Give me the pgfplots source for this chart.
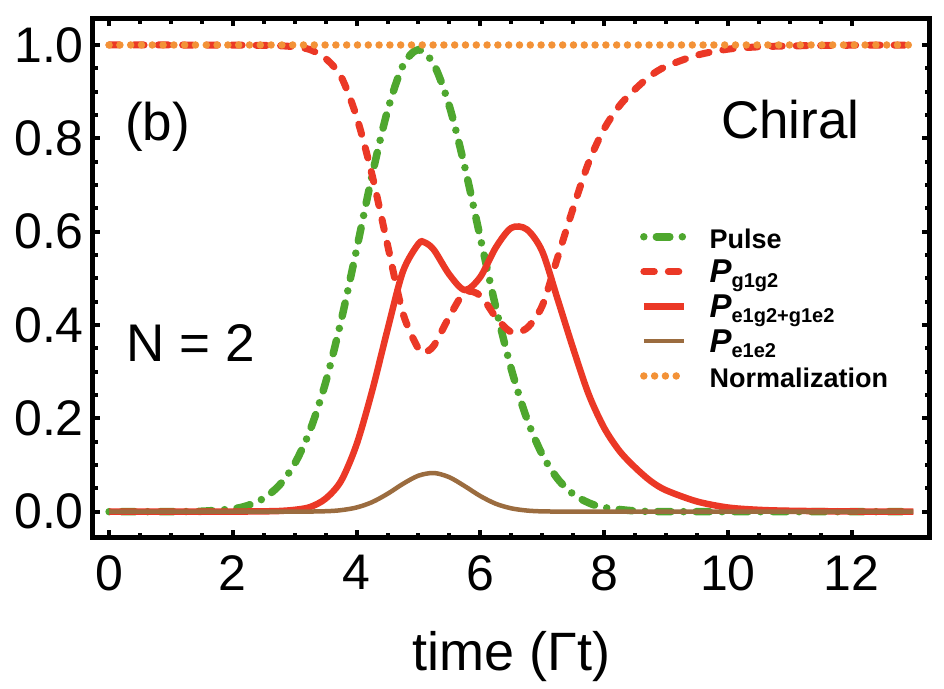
\documentclass[border=0pt]{standalone}
\usepackage{fontspec}
\setmainfont{Liberation Sans}
\usepackage{pgfplots}
\pgfplotsset{compat=1.18}
\definecolor{cgreen}{RGB}{78,167,46}
\definecolor{cred}{RGB}{235,56,38}
\definecolor{corange}{RGB}{243,146,55}
\definecolor{cbrown}{RGB}{155,108,63}
\newcommand{\lstrut}{\rule[-10.3pt]{0pt}{34.3pt}}
\newcommand{\Pleg}[1]{\lstrut{\fontsize{33}{33}\selectfont\bfseries\itshape P}\raisebox{-5pt}{\fontsize{20}{20}\selectfont\bfseries #1}}
\begin{document}
\begin{tikzpicture}
\begin{axis}[
  scale only axis, width=836.5pt, height=518.5pt,
  xmin=-0.26, xmax=13.26, ymin=-0.0553, ymax=1.0557,
  axis line style={line width=5pt, black},
  tick align=inside, tick pos=both,
  major tick length=7.5pt, minor tick length=5pt,
  tick style={line width=4pt, black},
  xtick={0,2,...,12}, minor x tick num=3,
  ytick={0,0.2,0.4,0.6,0.8,1.0}, minor y tick num=3,
  /pgf/number format/assume math mode=true,
  tick label style={font=\fontsize{50}{50}\selectfont},
  yticklabel style={/pgf/number format/.cd, fixed, fixed zerofill, precision=1, /tikz/.cd, anchor=east, inner sep=0pt, xshift=-9pt},
  xticklabel style={anchor=north, inner sep=0pt, yshift=-17.5pt},
  xlabel={time (Γt)},
  xlabel style={font=\fontsize{54}{54}\selectfont, at={(axis description cs:0.5,0)}, anchor=base, inner sep=0pt, yshift=-132.5pt},
  legend image code/.code={\draw[#1] (0pt,0pt) -- (40pt,0pt);},
  legend cell align=left,
  legend style={at={(rel axis cs:0.654,0.6046)}, anchor=north west, draw=none, fill=none,
    inner sep=0pt, outer sep=0pt, row sep=9.3pt,
    font=\fontsize{27}{27}\selectfont\bfseries,
    nodes={inner sep=0pt, outer sep=0pt},
    /tikz/every odd column/.append style={column sep=22pt}},
]
\coordinate (bl) at (rel axis cs:0,0);
% Pulse
\addplot[color=cgreen, line width=7.5pt, line cap=round, dash pattern=on 0pt off 12.5pt on 13.5pt off 12.5pt, smooth, tension=0.5] coordinates {
(0,0) (0.5,0) (1,0.0001) (1.5,0.001) (2,0.0061) (2.25,0.0137) (2.5,0.0288) (2.75,0.0564)
(3,0.1029) (3.25,0.175) (3.5,0.277) (3.75,0.409) (4,0.562) (4.25,0.720) (4.5,0.859) (4.75,0.956)
(5,0.99) (5.25,0.958) (5.5,0.869) (5.75,0.738) (6,0.587) (6.25,0.438) (6.5,0.306) (6.75,0.200)
(7,0.1226) (7.25,0.0704) (7.5,0.0378) (7.75,0.0191) (8,0.0090) (8.5,0.0017) (9,0.0002)
(10,0) (11,0) (12,0) (13,0)};
\addlegendentry{\lstrut Pulse}
% P g1g2
\addplot[color=cred, line width=7pt, line cap=round, dash pattern=on 10.5pt off 14pt, smooth, tension=0.5] coordinates {
(0,1) (1,1) (2,0.9998) (2.5,0.9992) (2.75,0.9985) (3,0.996) (3.25,0.99) (3.5,0.971) (3.75,0.932)
(4,0.846) (4.25,0.722) (4.5,0.572) (4.75,0.425) (5,0.349) (5.1,0.342) (5.25,0.356) (5.5,0.418)
(5.75,0.47) (6,0.463) (6.25,0.417) (6.5,0.385) (6.75,0.393) (7,0.441) (7.25,0.545) (7.5,0.65)
(7.75,0.748) (8,0.82) (8.25,0.87) (8.5,0.905) (8.75,0.934) (9,0.954) (9.5,0.978) (10,0.991)
(10.5,0.996) (11,0.998) (12,0.9995) (13,0.9999)};
\addlegendentry{\Pleg{g1g2}}
% P e1g2+g1e2
\addplot[color=cred, line width=6.5pt, smooth, tension=0.5] coordinates {
(0,0) (1,0) (2,0.0002) (2.5,0.0008) (2.75,0.0015) (3,0.004) (3.25,0.010) (3.5,0.028) (3.75,0.066)
(4,0.144) (4.25,0.258) (4.5,0.39) (4.75,0.515) (5,0.574) (5.1,0.577) (5.25,0.561) (5.5,0.508)
(5.75,0.475) (6,0.503) (6.25,0.566) (6.5,0.608) (6.75,0.605) (7,0.558) (7.25,0.455) (7.5,0.35)
(7.75,0.252) (8,0.18) (8.25,0.13) (8.5,0.095) (8.75,0.066) (9,0.046) (9.5,0.022) (10,0.009)
(10.5,0.004) (11,0.002) (12,0.0005) (13,0.0001)};
\addlegendentry{\Pleg{e1g2+g1e2}}
% P e1e2
\addplot[color=cbrown, line width=4.5pt, smooth, tension=0.5] coordinates {
(0,0) (1,0) (2,0) (3,0) (3.5,0.001) (3.75,0.0033) (4,0.009) (4.25,0.0204) (4.5,0.0383)
(4.75,0.0597) (5,0.0772) (5.25,0.0829) (5.5,0.0738) (5.75,0.0546) (6,0.0335) (6.25,0.017)
(6.5,0.0072) (6.75,0.0025) (7,0.0007) (7.5,0) (8,0) (9,0) (10,0) (11,0) (12,0) (13,0)};
\addlegendentry{\Pleg{e1e2}}
% Normalization
\addplot[color=corange, line width=7.5pt, line cap=round, dash pattern=on 0pt off 10.8pt] coordinates {
(0,1) (13,1)};
\addlegendentry{\lstrut Normalization}
\node[anchor=base west, inner sep=0pt, font=\fontsize{53}{53}\selectfont] at (axis cs:0.258,0.7964) {(b)};
\node[anchor=base west, inner sep=0pt, font=\fontsize{53}{53}\selectfont] at (axis cs:9.887,0.7994) {Chiral};
\node[anchor=base west, inner sep=0pt, font=\fontsize{53}{53}\selectfont] at (axis cs:0.286,0.3208) {N = 2};
\end{axis}
\pgfresetboundingbox
\path ([xshift=-93pt,yshift=-150.5pt]bl) rectangle ++(944pt,688pt);
\end{tikzpicture}
\end{document}
